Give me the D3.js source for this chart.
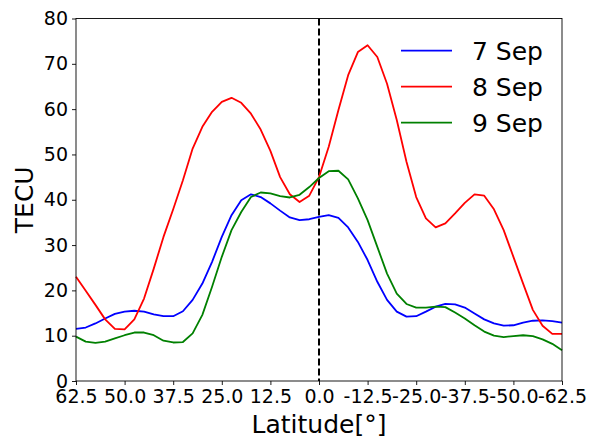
<!DOCTYPE html>
<html>
<head>
<meta charset="utf-8">
<script src="https://cdn.jsdelivr.net/npm/d3@7"></script>
<style>
  body { margin: 0; background: #fff; }
  text { font-family: "DejaVu Sans", sans-serif; fill: #000; }
</style>
</head>
<body>
<div class="chart"></div>
<script>
// latitude grid, 2.5 degree steps from north to south
var latitudes = d3.range(0, 51).map(i => 62.5 - 2.5 * i);

var sep7 = [11.5, 11.8, 12.7, 13.8, 14.8, 15.3, 15.5, 15.3, 14.7, 14.3,
  14.3, 15.4, 17.9, 21.5, 26.3, 31.8, 36.6, 39.9, 41.2, 40.6,
  39.2, 37.6, 36.1, 35.5, 35.7, 36.2, 36.6, 36.0, 33.9, 30.7,
  26.7, 21.9, 17.9, 15.3, 14.2, 14.3, 15.3, 16.4, 17.0, 16.9,
  16.2, 14.9, 13.6, 12.7, 12.2, 12.3, 12.9, 13.3, 13.4, 13.2, 12.9];

var sep8 = [23.0, 19.9, 16.8, 13.6, 11.5, 11.4, 13.6, 18.2, 24.8, 31.8,
  37.9, 44.3, 51.3, 56.1, 59.4, 61.6, 62.5, 61.4, 59.0, 55.5,
  50.8, 45.0, 41.2, 39.5, 40.9, 45.0, 51.7, 59.8, 67.5, 72.6,
  74.1, 71.5, 65.6, 57.6, 48.4, 40.6, 35.9, 33.9, 34.8, 37.0,
  39.3, 41.2, 40.9, 37.9, 33.3, 27.4, 21.5, 15.7, 12.2, 10.4, 10.4];

var sep9 = [9.8, 8.7, 8.4, 8.7, 9.4, 10.1, 10.7, 10.7, 10.1, 8.9,
  8.5, 8.6, 10.5, 14.6, 20.8, 27.4, 33.3, 37.3, 40.6, 41.6,
  41.4, 40.8, 40.5, 41.1, 42.8, 44.8, 46.3, 46.4, 44.5, 40.3,
  35.5, 29.6, 23.7, 19.3, 17.0, 16.2, 16.2, 16.4, 16.3, 15.1,
  13.8, 12.3, 10.9, 10.0, 9.7, 9.9, 10.1, 9.9, 9.2, 8.2, 6.8];

var seriesNames = ["7 Sep", "8 Sep", "9 Sep"];
var seriesColors = ["#0000ff", "#ff0000", "#008000"];

var xTicks = [62.5, 50, 37.5, 25, 12.5, 0, -12.5, -25, -37.5, -50, -62.5];
var xTickLabels = ["62.5", "50.0", "37.5", "25.0", "12.5", "0.0",
  "-12.5", "-25.0", "-37.5", "-50.0", "-62.5"];
var yTicks = [0, 10, 20, 30, 40, 50, 60, 70, 80];

var svgWidth = 590, svgHeight = 438;
var margin = { top: 18.5, right: 28, bottom: 57, left: 76 };
var width = svgWidth - margin.left - margin.right;
var height = svgHeight - margin.top - margin.bottom;

var svg = d3.select(".chart")
  .append("svg")
  .attr("width", svgWidth)
  .attr("height", svgHeight);

var chartGroup = svg.append("g")
  .attr("transform", `translate(${margin.left}, ${margin.top})`);

var xScale = d3.scaleLinear().domain([62.5, -62.5]).range([0, width]);
var yScale = d3.scaleLinear().domain([0, 80]).range([height, 0]);

// zero latitude marker
chartGroup.append("line")
  .attr("x1", xScale(0)).attr("x2", xScale(0))
  .attr("y1", 0).attr("y2", height)
  .attr("stroke", "#000")
  .attr("stroke-width", 2)
  .attr("stroke-dasharray", "7,3");

var line = d3.line()
  .x((d, i) => xScale(latitudes[i]))
  .y(d => yScale(d));

[sep7, sep8, sep9].forEach(function(values, k) {
  chartGroup.append("path")
    .datum(values)
    .attr("d", line)
    .attr("fill", "none")
    .attr("stroke", seriesColors[k])
    .attr("stroke-width", 1.8)
    .attr("stroke-linejoin", "round");
});

// axes
var xAxis = d3.axisBottom(xScale)
  .tickValues(xTicks)
  .tickFormat((d, i) => xTickLabels[i])
  .tickSize(4).tickPadding(5);
var yAxis = d3.axisLeft(yScale)
  .tickValues(yTicks)
  .tickSize(4).tickPadding(4);

var gx = chartGroup.append("g")
  .attr("transform", `translate(0, ${height})`)
  .call(xAxis);
var gy = chartGroup.append("g").call(yAxis);

[gx, gy].forEach(function(g) {
  g.select(".domain").remove();
  g.selectAll("line").attr("stroke", "#000").attr("stroke-width", 0.9);
  g.selectAll("text")
    .style("font-family", "DejaVu Sans")
    .style("font-size", "19px");
});

// frame
chartGroup.append("rect")
  .attr("width", width).attr("height", height)
  .attr("fill", "none")
  .attr("stroke", "#000")
  .attr("stroke-width", 0.9);

// axis labels
chartGroup.append("text")
  .attr("transform", "rotate(-90)")
  .attr("x", -height / 2)
  .attr("y", -margin.left + 33)
  .attr("text-anchor", "middle")
  .style("font-size", "25px")
  .text("TECU");

chartGroup.append("text")
  .attr("x", width / 2)
  .attr("y", height + 52)
  .attr("text-anchor", "middle")
  .style("font-size", "25px")
  .text("Latitude[°]");

// legend
var legend = chartGroup.append("g")
  .attr("transform", `translate(${401 - margin.left}, ${50.7 - margin.top})`);

seriesNames.forEach(function(name, k) {
  var row = legend.append("g").attr("transform", `translate(0, ${k * 36})`);
  row.append("line")
    .attr("x1", 0).attr("x2", 51)
    .attr("stroke", seriesColors[k])
    .attr("stroke-width", 1.8);
  row.append("text")
    .attr("x", 71)
    .attr("dy", "0.36em")
    .style("font-size", "25px")
    .text(name);
});
</script>
</body>
</html>
